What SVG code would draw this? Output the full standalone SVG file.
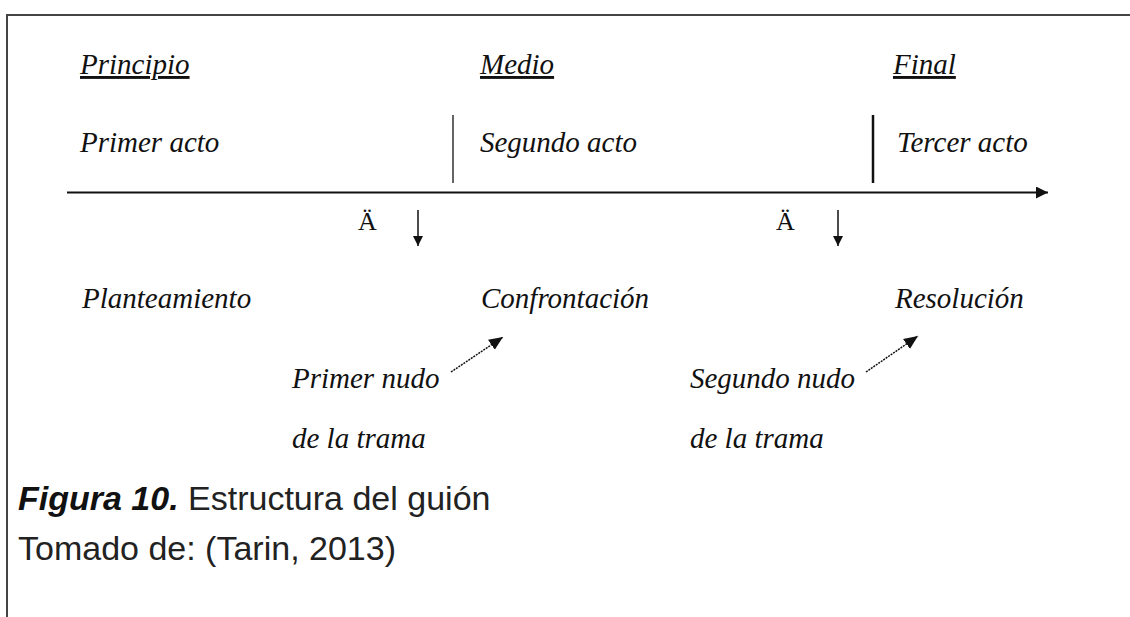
<svg xmlns="http://www.w3.org/2000/svg" width="1130" height="617" viewBox="0 0 1130 617">
<defs>
<style>
.t{font-family:"Liberation Serif","Times New Roman",serif;font-style:italic;font-size:29px;fill:#111}
.u{text-decoration:underline}
.a{font-family:"Liberation Serif","Times New Roman",serif;font-size:26px;fill:#111}
.cap{font-family:"Liberation Sans",Arial,sans-serif;font-size:34px;fill:#222}
.ln{stroke:#111;fill:none}
</style>
<marker id="ah" viewBox="0 0 10 10" refX="10" refY="5" markerWidth="10" markerHeight="10" markerUnits="userSpaceOnUse" orient="auto">
<path d="M0,0 L10,5 L0,10 Z" fill="#111"/>
</marker>
<marker id="ahBig" viewBox="0 0 12 12" refX="12" refY="6" markerWidth="12" markerHeight="12" markerUnits="userSpaceOnUse" orient="auto">
<path d="M0,0 L12,6 L0,12 Z" fill="#111"/>
</marker>
<marker id="ahD" viewBox="0 0 14 14" refX="14" refY="7" markerWidth="14" markerHeight="14" markerUnits="userSpaceOnUse" orient="auto">
<path d="M0,1 L14,7 L0,13 Z" fill="#111"/>
</marker>
</defs>
<rect width="1130" height="617" fill="#fff"/>
<g id="frame">
<path d="M7,617 V15 H1130" fill="none" stroke="#444" stroke-width="2"/>
</g>
<g id="headings">
<text id="principio" class="t u" x="80" y="74">Principio</text>
<text id="medio" class="t u" x="480" y="74">Medio</text>
<text id="final" class="t u" x="893" y="74">Final</text>
</g>
<g id="acts">
<text id="primer-acto" class="t" x="80" y="152">Primer acto</text>
<text id="segundo-acto" class="t" x="480" y="152">Segundo acto</text>
<text id="tercer-acto" class="t" x="897" y="152">Tercer acto</text>
</g>
<g id="marks">
<text class="a" x="358" y="230">Ä</text>
<text class="a" x="776" y="230">Ä</text>
</g>
<g id="stages">
<text id="planteamiento" class="t" x="82" y="308">Planteamiento</text>
<text id="confrontacion" class="t" x="481" y="308">Confrontación</text>
<text id="resolucion" class="t" x="895" y="308">Resolución</text>
</g>
<g id="nudo1">
<text class="t" x="292" y="388">Primer nudo</text>
<text class="t" x="292" y="448">de la trama</text>
</g>
<g id="nudo2">
<text class="t" x="690" y="388">Segundo nudo</text>
<text class="t" x="690" y="448">de la trama</text>
</g>
<g id="connectors">
<line class="ln" x1="67" y1="192.5" x2="1048" y2="192.5" stroke-width="2" marker-end="url(#ahBig)"/>
<line class="ln" x1="453" y1="115" x2="453" y2="183" stroke-width="1.3"/>
<line class="ln" x1="873" y1="115" x2="873" y2="183" stroke-width="2.5"/>
<line class="ln" x1="418" y1="210" x2="418" y2="246" stroke-width="1.5" marker-end="url(#ah)"/>
<line class="ln" x1="838" y1="210" x2="838" y2="246" stroke-width="1.5" marker-end="url(#ah)"/>
<line class="ln" x1="451" y1="372" x2="503" y2="337" stroke-width="1.5" stroke-dasharray="2,1" marker-end="url(#ahD)"/>
<line class="ln" x1="866" y1="372" x2="918" y2="336" stroke-width="1.5" stroke-dasharray="2,1" marker-end="url(#ahD)"/>
</g>
<g id="caption">
<text class="cap" x="18" y="510"><tspan font-weight="bold" font-style="italic" fill="#111">Figura 10.</tspan>  Estructura del guión</text>
<text class="cap" x="18" y="560">Tomado de: (Tarin, 2013)</text>
</g>
</svg>
